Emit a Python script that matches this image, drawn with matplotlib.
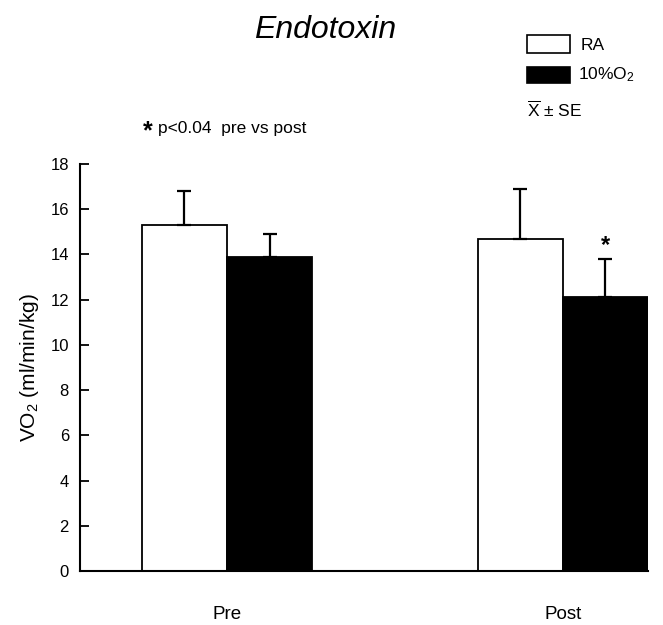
import matplotlib
matplotlib.use("Agg")
import matplotlib.pyplot as plt
import numpy as np
from matplotlib.patches import Rectangle

plt.rcParams["font.family"] = ["Liberation Sans", "DejaVu Sans"]
plt.rcParams["mathtext.fontset"] = "custom"
plt.rcParams["mathtext.rm"] = "Liberation Sans"
plt.rcParams["mathtext.it"] = "Liberation Sans:italic"

# data
groups = ["Pre", "Post"]
series = ["RA", "10%O$_2$"]
ra_mean = [15.3, 14.7]
ra_se = [1.5, 2.2]
hyp_mean = [13.9, 12.1]
hyp_se = [1.0, 1.7]
y_ticks = [0, 2, 4, 6, 8, 10, 12, 14, 16, 18]

fig = plt.figure(figsize=(6.63, 6.25), dpi=100)
ax = fig.add_axes((80 / 663, 1 - 571 / 625, 568 / 663, 407 / 625))

x = np.arange(len(groups))
w = 0.253
err_kw = dict(capsize=5, elinewidth=1.6, capthick=1.6, ecolor="black")
ax.bar(x - w / 2, ra_mean, w, yerr=[np.zeros(2), ra_se], color="white",
       edgecolor="black", linewidth=1.3, error_kw=err_kw, zorder=2)
ax.bar(x + w / 2, hyp_mean, w, yerr=[np.zeros(2), hyp_se], color="black",
       edgecolor="black", linewidth=1.3, error_kw=err_kw, zorder=2)

# significance mark over post hypoxia bar
ax.text(x[1] + w / 2, hyp_mean[1] + hyp_se[1] + 0.1, "*", ha="center",
        va="bottom", fontsize=17, fontweight="bold")

ax.set_xlim(-0.4375, 1 + w)
ax.set_ylim(0, 18)
ax.set_yticks(y_ticks)
ax.set_xticks(x)
ax.set_xticklabels(groups, fontsize=13.5)
ax.tick_params(axis="x", length=0, pad=25)
ax.tick_params(axis="y", direction="in", length=6.5, width=1.3,
               labelsize=12, pad=8)
for s in ["top", "right"]:
    ax.spines[s].set_visible(False)
for s in ["left", "bottom"]:
    ax.spines[s].set_linewidth(1.5)
ax.set_ylabel("VO$_2$ (ml/min/kg)", fontsize=15, labelpad=7)

fig.text(0.49, 0.952, "Endotoxin", ha="center", va="center", fontsize=23,
         style="italic")

# legend drawn by hand in figure pixels
def fx(px):
    return px / 663

def fy(py):
    return 1 - py / 625

fig.patches.append(Rectangle((fx(527), fy(53)), 43 / 663, 18 / 625,
                             transform=fig.transFigure, facecolor="white",
                             edgecolor="black", linewidth=1.2))
fig.patches.append(Rectangle((fx(527), fy(83)), 43 / 663, 16 / 625,
                             transform=fig.transFigure, facecolor="black",
                             edgecolor="black", linewidth=1.2))
fig.text(fx(581), fy(45), series[0], va="center", fontsize=12.5)
fig.text(fx(578), fy(75), series[1], va="center", fontsize=12.5)
fig.text(fx(527), fy(110), r"$\overline{\mathrm{X}}$ ± SE", va="center",
         fontsize=12.5)

fig.text(fx(143), fy(131), "*", va="center", fontsize=18, fontweight="bold")
fig.text(fx(158), fy(129), "p<0.04  pre vs post", va="center", fontsize=12.5)

fig.savefig("out.png", dpi=100)
